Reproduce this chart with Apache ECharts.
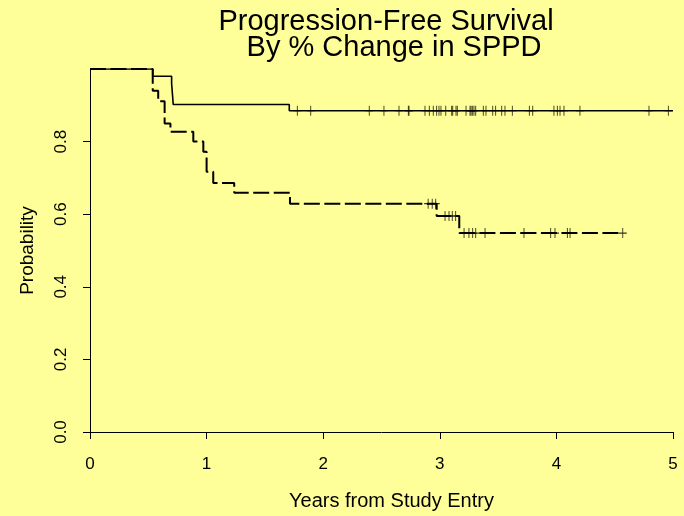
<!DOCTYPE html>
<html>
<head>
<meta charset="utf-8">
<script src="https://cdn.jsdelivr.net/npm/echarts@6/dist/echarts.min.js"></script>
<style>
html,body{margin:0;padding:0;background:#ffff99;}
#c{width:684px;height:516px;}
</style>
</head>
<body>
<div id="c"></div>
<script>
// Solid curve: step times and survival after each time
var solidTimes = [0, 0.538, 0.700, 0.714, 1.709, 5.0];
var solidSurv  = [1.0, 0.980, 0.960, 0.902, 0.885, 0.885];
var solidCensor = [1.778, 1.893, 2.395, 2.521, 2.650, 2.730, 2.736, 2.873, 2.910, 2.944, 2.973, 2.993, 3.010, 3.051, 3.102, 3.111, 3.139, 3.150, 3.225, 3.259, 3.268, 3.279, 3.293, 3.308, 3.373, 3.396, 3.454, 3.479, 3.531, 3.559, 3.622, 3.768, 3.797, 3.979, 4.008, 4.031, 4.065, 4.202, 4.794, 4.960];

// Dashed curve
var dashTimes = [0, 0.538, 0.585, 0.640, 0.690, 0.886, 0.972, 1.000, 1.057, 1.237, 1.715, 2.973, 3.167, 4.569];
var dashSurv  = [1.0, 0.940, 0.911, 0.850, 0.827, 0.800, 0.772, 0.717, 0.686, 0.659, 0.629, 0.595, 0.548, 0.548];
var dashCensor = [2.900, 2.935, 2.965, 3.045, 3.079, 3.107, 3.136, 3.208, 3.250, 3.282, 3.308, 3.388, 3.722, 3.951, 3.988, 4.094, 4.117, 4.569];

var xTicks = [0, 1, 2, 3, 4, 5];
var yTicks = [0, 0.2, 0.4, 0.6, 0.8];

function stepPairs(ts, ss) {
  return ts.map(function (t, i) { return [t, ss[i]]; });
}
function survAt(ts, ss, t) {
  var v = ss[0];
  for (var i = 0; i < ts.length; i++) { if (ts[i] <= t) v = ss[i]; }
  return v;
}
function censorPairs(cs, ts, ss) {
  return cs.map(function (t) { return [t, survAt(ts, ss, t)]; });
}

var plus = 'path://M5,0L5,10M0,5L10,5';
var font = 'Liberation Sans, Arial, Helvetica, sans-serif';

var chart = echarts.init(document.getElementById('c'), null, {renderer: 'canvas'});
chart.setOption({
  backgroundColor: '#ffff99',
  animation: false,
  title: {
    text: 'Progression-Free Survival\n  By % Change in SPPD',
    left: 381, top: 4, textAlign: 'center',
    textStyle: {fontFamily: font, fontSize: 29, fontWeight: 'normal', color: '#000', lineHeight: 26}
  },
  grid: {left: 90, right: 11, top: 69, bottom: 82},
  xAxis: {
    type: 'value', min: 0, max: 5, interval: 1,
    name: 'Years from Study Entry', nameLocation: 'middle', nameGap: 59,
    nameTextStyle: {fontFamily: font, fontSize: 20, color: '#000', padding: [0, 0, 0, 20]},
    axisLine: {show: true, onZero: false, lineStyle: {color: '#000', width: 1}},
    axisTick: {show: true, inside: false, length: 7, lineStyle: {color: '#000'}, customValues: xTicks},
    axisLabel: {fontFamily: font, fontSize: 17, color: '#000', margin: 24, customValues: xTicks},
    splitLine: {show: false}
  },
  yAxis: {
    type: 'value', min: 0, max: 1, interval: 0.2,
    name: 'Probability', nameLocation: 'middle', nameGap: 53, nameRotate: 90,
    nameTextStyle: {fontFamily: font, fontSize: 19, color: '#000'},
    axisLine: {show: true, onZero: false, lineStyle: {color: '#000', width: 1}},
    axisTick: {show: true, inside: false, length: 7, lineStyle: {color: '#000'}, customValues: yTicks},
    axisLabel: {fontFamily: font, fontSize: 17, color: '#000', margin: 20, rotate: 90,
      customValues: yTicks, formatter: function (v) { return v.toFixed(1); }},
    splitLine: {show: false}
  },
  series: [
    {
      type: 'line', step: 'end', data: stepPairs(solidTimes, solidSurv),
      symbol: 'none', lineStyle: {color: '#000', width: 1.6}, z: 3
    },
    {
      type: 'line', step: 'end', data: stepPairs(dashTimes, dashSurv),
      symbol: 'none', lineStyle: {color: '#000', width: 2, type: [16, 4.5]}, z: 3
    },
    {
      type: 'scatter', data: censorPairs(solidCensor, solidTimes, solidSurv),
      symbol: plus, symbolSize: [8, 10],
      itemStyle: {color: 'none', borderColor: '#000', borderWidth: 1}, z: 4
    },
    {
      type: 'scatter', data: censorPairs(dashCensor, dashTimes, dashSurv),
      symbol: plus, symbolSize: [8, 10],
      itemStyle: {color: 'none', borderColor: '#000', borderWidth: 1}, z: 4
    }
  ]
});
</script>
</body>
</html>
